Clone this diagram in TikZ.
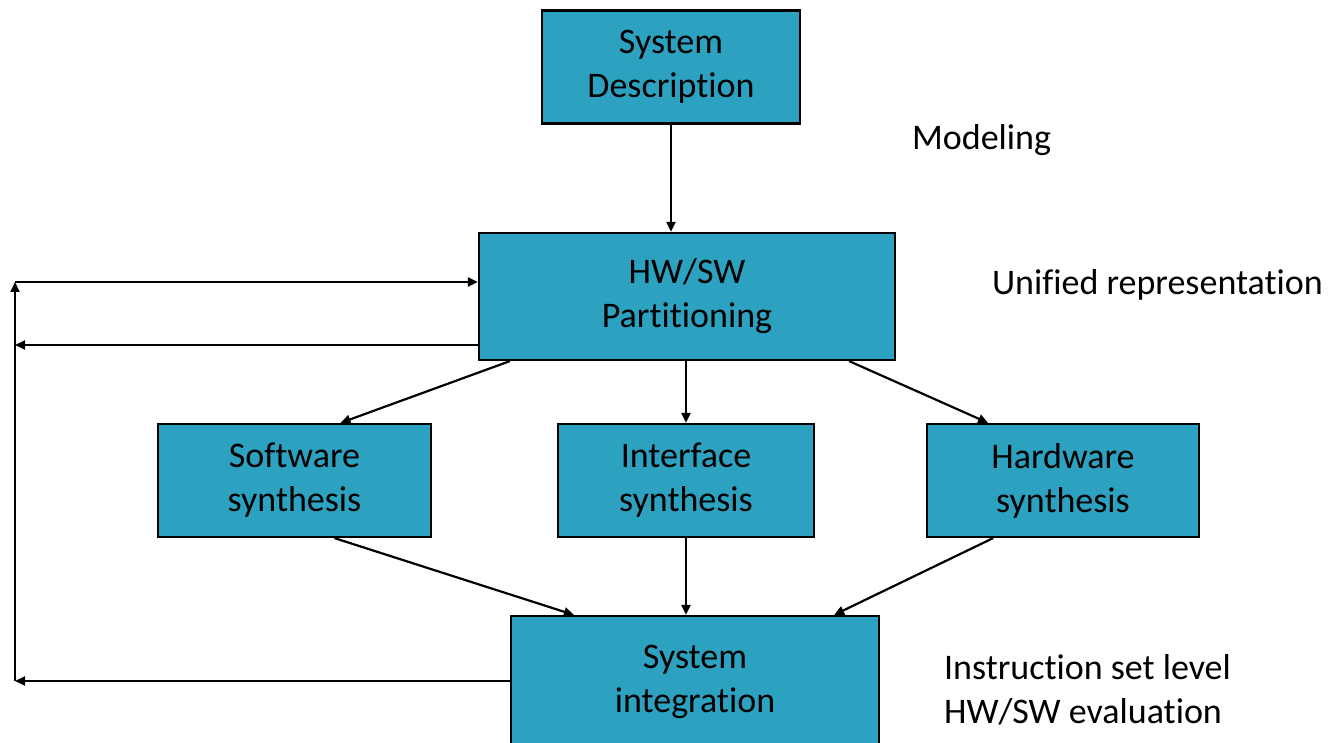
\documentclass[tikz,border=0pt]{standalone}
\usepackage{fontspec}
\setmainfont{Carlito}[RawFeature=-liga]
\usepackage{xcolor}
\usepackage{tikz}
\usetikzlibrary{arrows.meta, positioning}

\definecolor{boxteal}{RGB}{44,162,192}

\begin{document}
\begin{tikzpicture}[x=0.5pt, y=-0.5pt, >={Triangle[length=5pt,width=4.5pt]},
    line width=1.1pt, font=\fontsize{18}{22}\selectfont,
    stage/.style={draw=black, line width=1.1pt, fill=boxteal, align=center, inner sep=0pt},
    phase/.style={anchor=west, align=left, inner sep=0pt}]
  \useasboundingbox (0,0) rectangle (1340,743);

  % Design stages
  \node[stage, minimum width=129pt, minimum height=56.5pt] (sysdesc) at (671,67)  {System\\Description};
  \node[stage, minimum width=208pt, minimum height=63.5pt] (hwsw)    at (687,296.5) {HW/SW\\Partitioning};
  \node[stage, minimum width=136.5pt, minimum height=56.5pt] (swsyn) at (294.5,480.5) {Software\\synthesis};
  \node[stage, minimum width=128pt, minimum height=56.5pt] (ifsyn)   at (686,480.5) {Interface\\synthesis};
  \node[stage, minimum width=136pt, minimum height=56.5pt] (hwsyn)   at (1063,480.5) {Hardware\\synthesis};
  \node[stage, minimum width=184pt, minimum height=66pt] (integ)     at (695,682)   {System\\integration};

  % Abstraction levels
  \node[phase] (lvlmodel) at (911,140) {Modeling};
  \node[phase] (lvlunif)  at (991,285) {Unified representation};
  \node[phase] (lvlinstr) at (943,690) {Instruction set level\\HW/SW evaluation};

  % Forward flow
  \draw[->] (sysdesc.south) -- (sysdesc.south |- hwsw.north);
  \draw[->] ([xshift=16pt]hwsw.south west) -- ([xshift=23pt]swsyn.north);
  \draw[->] (ifsyn.north |- hwsw.south) -- (ifsyn.north);
  \draw[->] ([xshift=-23.5pt]hwsw.south east) -- ([xshift=-106pt]hwsyn.north east);
  \draw[->] ([xshift=20pt]swsyn.south) -- ([xshift=32pt]integ.north west);
  \draw[->] (ifsyn.south) -- (ifsyn.south |- integ.north);
  \draw[->] ([xshift=-103.5pt]hwsyn.south east) -- ([xshift=-23pt]integ.north east);

  % Feedback loops
  \coordinate (fbtop) at (15,282);
  \coordinate (fbmid) at (15,345);
  \coordinate (fbbot) at (15,681);
  \draw[->] (fbmid -| hwsw.west) -- (fbmid);
  \draw[->] (fbbot -| integ.west) -- (fbbot);
  \draw[->] (fbbot) -- (fbtop);
  \draw[->] (fbtop) -- (fbtop -| hwsw.west);
\end{tikzpicture}
\end{document}
